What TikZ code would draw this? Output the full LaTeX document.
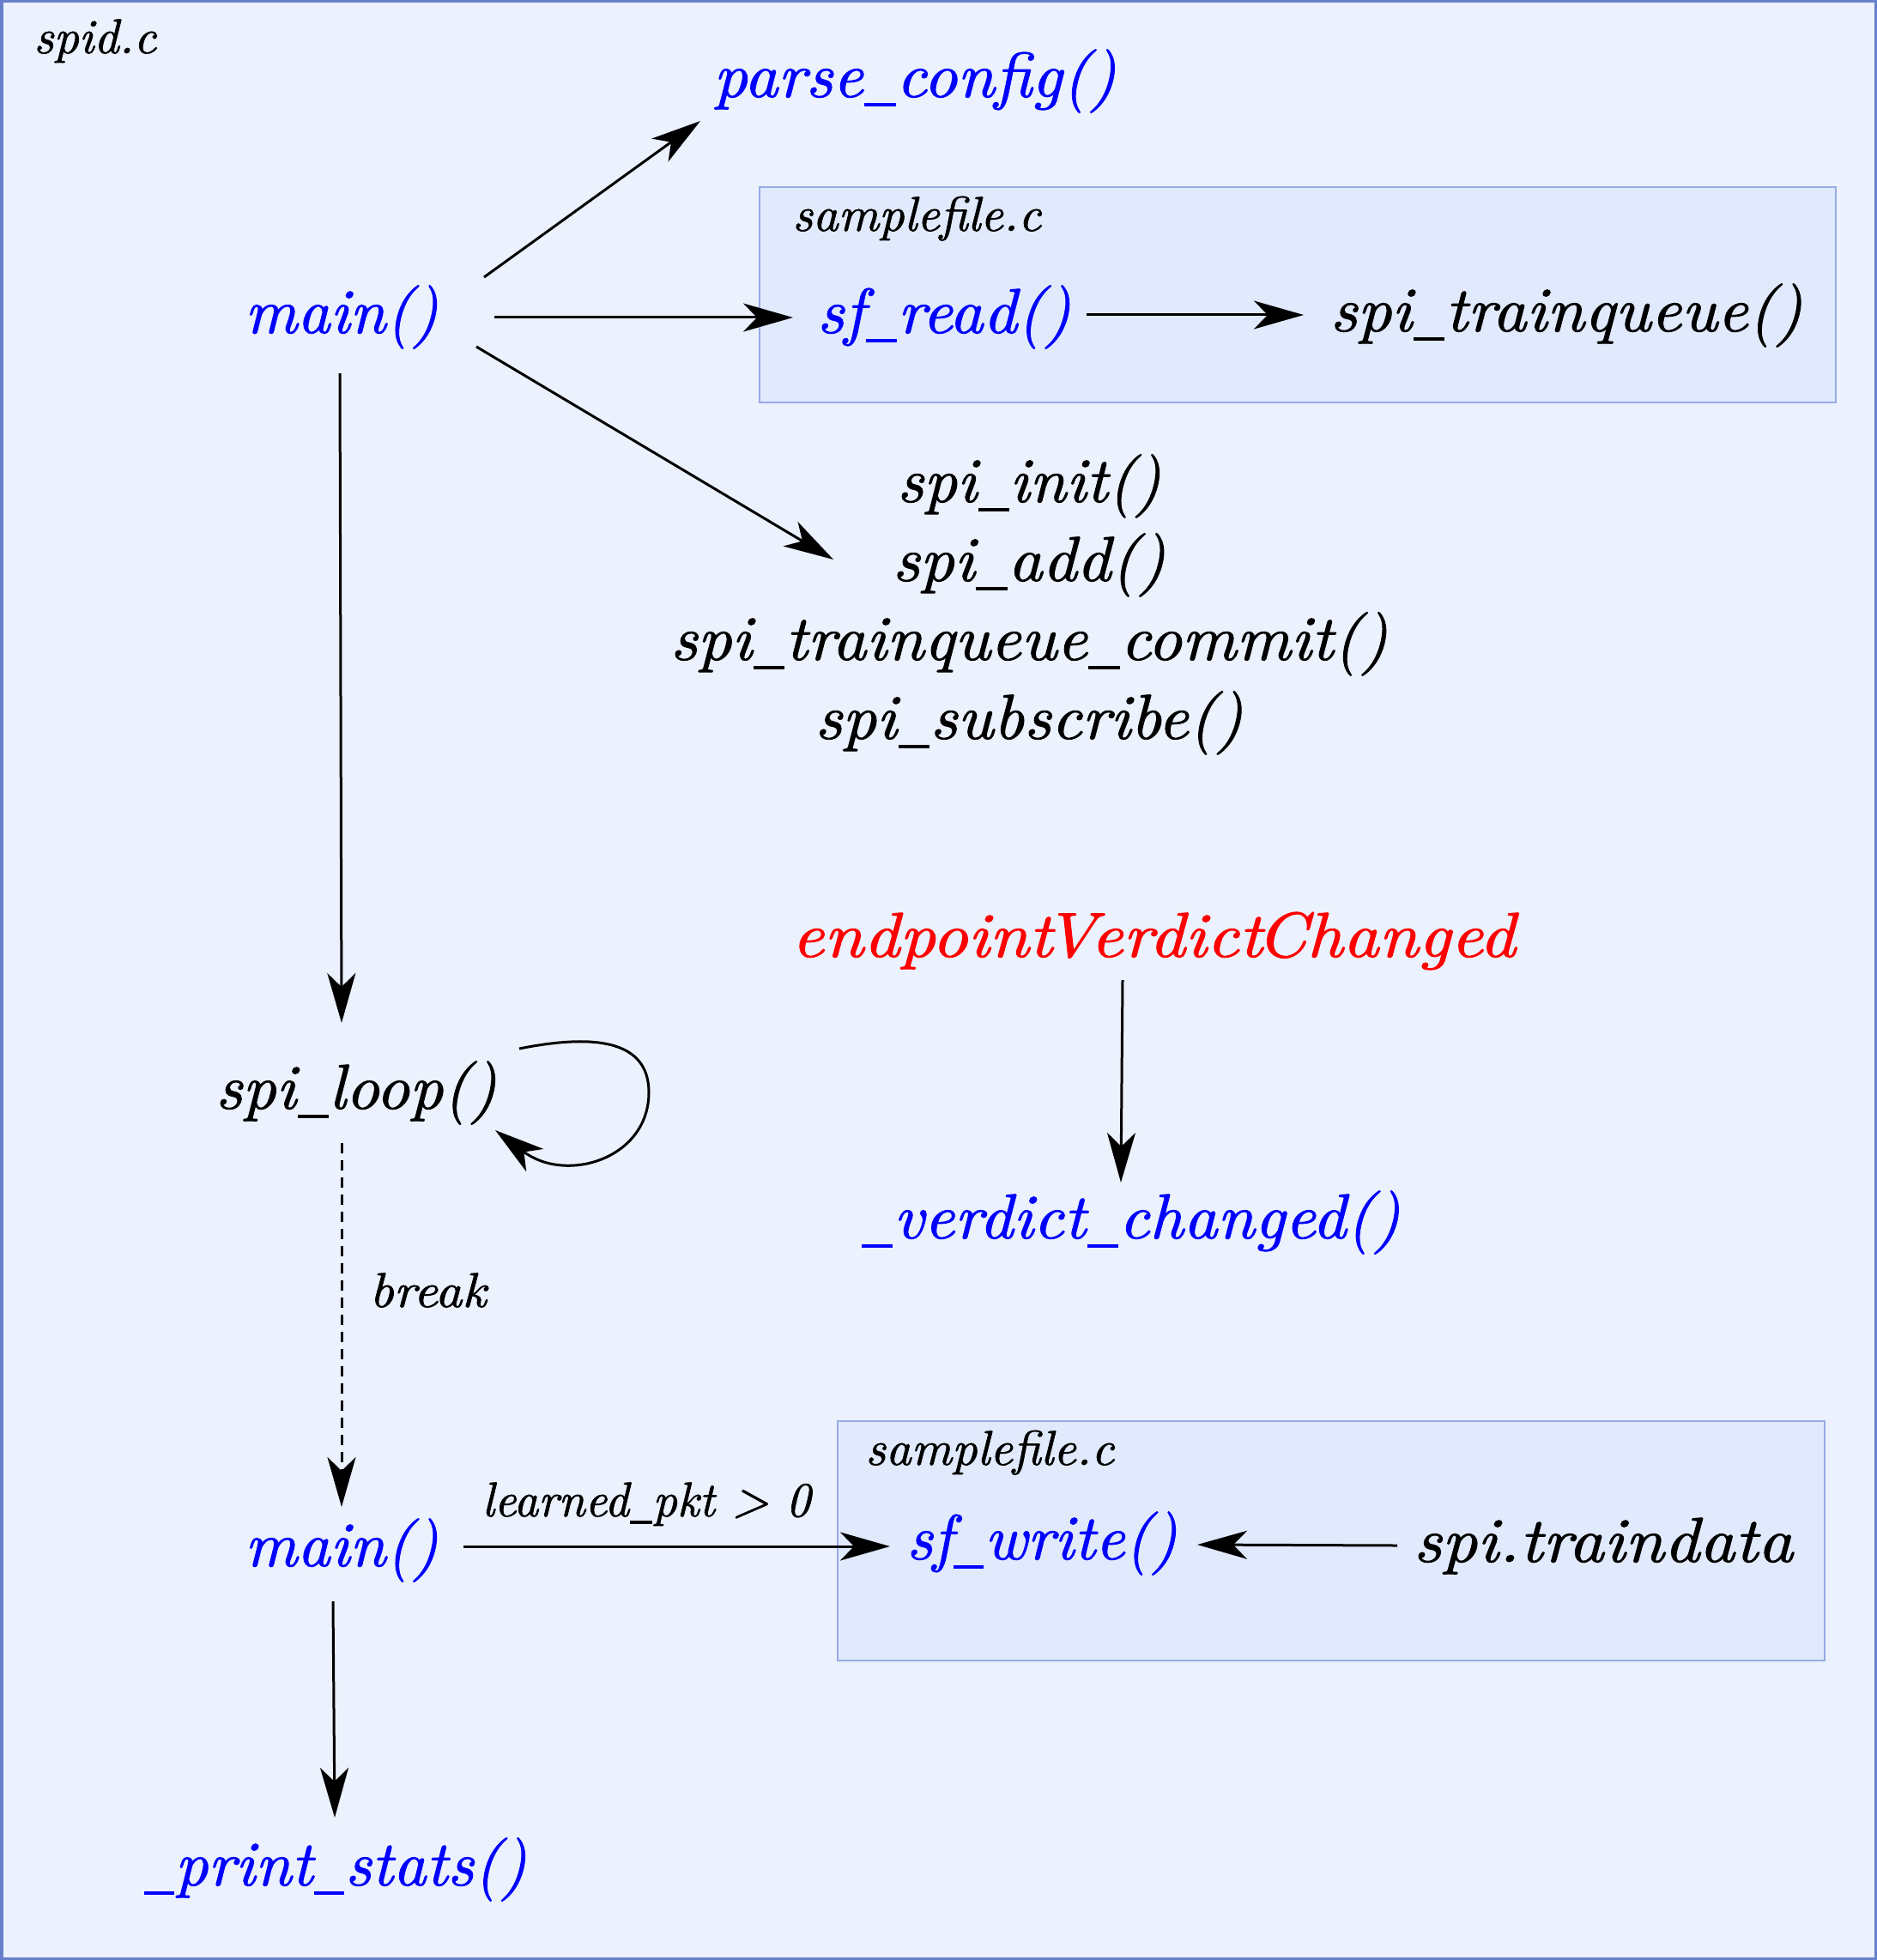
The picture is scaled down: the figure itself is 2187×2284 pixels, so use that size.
\RequirePackage{fix-cm}
\documentclass[tikz,border=0pt]{standalone}
\usepackage{fontspec}
\newfontfamily\lmit{lmroman10-italic}[Extension=.otf,FakeBold=1.2]
\newcommand\usc{\kern0.02em\rule[-0.15em]{0.47em}{0.06em}\kern0.01em}
\newcommand\sx[2]{\scalebox{#1}[1]{#2}}
\usetikzlibrary{arrows.meta}
\definecolor{bgfill}{RGB}{235,241,253}
\definecolor{bgline}{RGB}{104,128,204}
\definecolor{boxfill}{RGB}{224,234,252}
\definecolor{boxline}{RGB}{150,170,230}
\begin{document}
\begin{tikzpicture}[x=0.5pt,y=-0.5pt,
  big/.style={font=\fontsize{37}{46}\lmit, inner sep=0pt},
  small/.style={font=\fontsize{28.5}{34}\lmit, inner sep=0pt},
  fn/.style={big, text=blue},
  arr/.style={line width=1.5pt, -{Stealth[length=29pt,width=16.5pt,inset=8pt]}},
  filebox/.style={draw=boxline, fill=boxfill, line width=1pt},
]
\useasboundingbox (0,0) rectangle (2187,2284);
% outer frame
\draw[draw=bgline, fill=bgfill, line width=1.75pt] (1.75,1.75) rectangle (2185.25,2282.25);
% file boxes
\draw[filebox] (885,218) rectangle (2139,469);
\draw[filebox] (976,1656) rectangle (2126,1935);
% labels of files
\node[small, anchor=base west] (spidc) at (39,62) {spid.c};
\node[small, anchor=base west] (sf1) at (923,269) {\sx{1.015}{samplefile.c}};
\node[small, anchor=base west] (sf2) at (1008,1707) {\sx{1.015}{samplefile.c}};
% nodes
\node[fn, anchor=base] (parse) at (1066,113) {\sx{1.042}{parse\usc config()}};
\node[fn, anchor=base] (main1) at (398,388) {\sx{1.01}{main()}};
\node[fn, anchor=base] (sfr) at (1100,388) {\sx{1.042}{sf\usc read()}};
\node[big, anchor=base] (trainq) at (1825,386) {\sx{1.05}{spi\usc trainqueue()}};
\node[big, align=center, anchor=north] (spi) at (1199,529) {\sx{1.025}{spi\usc init()}\\\sx{1.054}{spi\usc add()}\\\sx{1.048}{spi\usc trainqueue\usc commit()}\\\sx{1.05}{spi\usc subscribe()}};
\node[big, anchor=base, text=red] (evc) at (1344,1115) {\sx{1.107}{endpoint\kern-0.12em Verdict\kern-0.08em Changed}};
\node[fn, anchor=base] (vc) at (1317,1443) {\sx{1.044}{\usc verdict\usc changed()}};
\node[big, anchor=base] (loop) at (415,1292) {\sx{1.033}{spi\usc loop()}};
\node[small, anchor=base west] (brk) at (430,1523) {\sx{1.08}{break}};
\node[fn, anchor=base] (main2) at (398,1825) {\sx{1.01}{main()}};
\node[small, anchor=base] (lpkt) at (753,1767) {\sx{0.974}{learned\usc pkt > 0}};
\node[fn, anchor=base] (sfw) at (1214,1817) {\sx{1.01}{sf\usc write()}};
\node[big, anchor=base] (trdata) at (1868,1820) {\sx{1.09}{spi.traindata}};
\node[fn, anchor=base] (pstats) at (390,2197) {\sx{1.017}{\usc print\usc stats()}};
% connectors
\draw[arr] ([shift={(166,-65)}]main1.base) -- ([shift={(-250,28)}]parse.base);
\draw[arr] ([shift={(178,-18)}]main1.base) -- ([shift={(-176,-18)}]sfr.base);
\draw[arr] ([shift={(166,-21)}]sfr.base) -- ([shift={(-306,-19)}]trainq.base);
\draw[arr] ([shift={(157,16)}]main1.base) -- ([shift={(-228,123)}]spi.north);
\draw[arr] ([shift={(-2,47)}]main1.base) -- ([shift={(-17,-100)}]loop.base);
\draw[arr] ([shift={(190,-70)}]loop.base)
  .. controls ([shift={(280,-88)}]loop.base) and ([shift={(341,-79)}]loop.base) .. ([shift={(341,-19)}]loop.base)
  .. controls ([shift={(341,58)}]loop.base) and ([shift={(245,88)}]loop.base) .. ([shift={(162,25)}]loop.base);
\draw[arr, dash pattern=on 6pt off 4pt] ([shift={(-17,40)}]loop.base) -- ([shift={(0,-69)}]main2.base);
\draw[arr] ([shift={(-36,27)}]evc.base) -- ([shift={(-11,-65)}]vc.base);
\draw[arr] ([shift={(142,-23)}]main2.base) -- ([shift={(-177,-15)}]sfw.base);
\draw[arr] ([shift={(-240,-19)}]trdata.base) -- ([shift={(181,-17)}]sfw.base);
\draw[arr] ([shift={(-10,41)}]main2.base) -- ([shift={(0,-79)}]pstats.base);
\end{tikzpicture}
\end{document}
